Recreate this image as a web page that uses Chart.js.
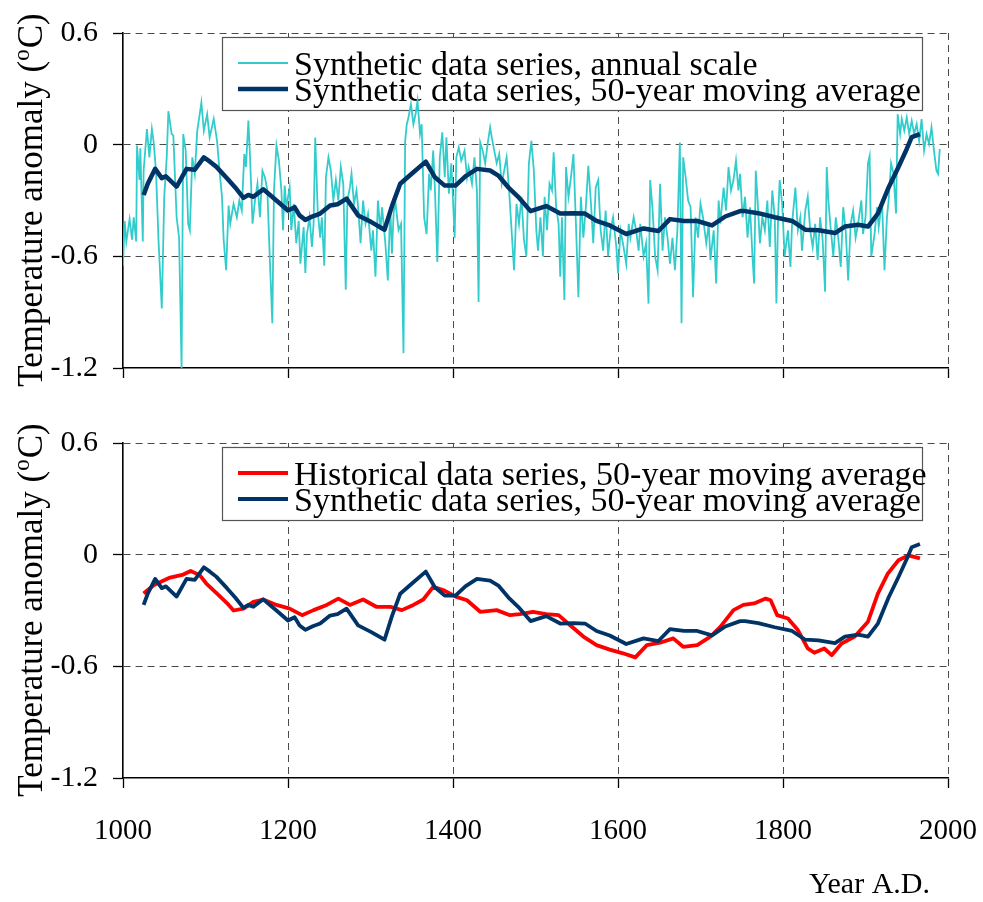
<!DOCTYPE html>
<html><head><meta charset="utf-8">
<script src="https://cdn.jsdelivr.net/npm/chart.js@4.4.1/dist/chart.umd.min.js"></script>
<style>
html,body{margin:0;padding:0;background:#fff;}
#wrap{position:relative;width:983px;height:902px;background:#fff;}
#c1{position:absolute;left:0;top:0;}
#c2{position:absolute;left:0;top:410px;}
</style></head><body>
<div id="wrap"><canvas id="c1" width="983" height="410"></canvas><canvas id="c2" width="983" height="492"></canvas></div>
<script>
// ---- data ----
const annualYears = [1000,1002,1004,1008,1011,1013,1016,1017,1020,1021,1024,1025,1029,1032,1035,1037,1040,1043,1047,1050,1053,1055,1059,1061,1065,1068,1071,1073,1076,1079,1081,1084,1087,1090,1093,1095,1098,1102,1105,1110,1114,1117,1120,1122,1125,1128,1130,1134,1138,1141,1144,1147,1149,1152,1154,1157,1160,1163,1166,1169,1172,1175,1178,1181,1183,1186,1189,1192,1194,1196,1198,1202,1204,1207,1210,1213,1215,1219,1221,1223,1226,1229,1231,1233,1236,1239,1241,1244,1246,1249,
1252,1255,1258,1261,1264,1267,1270,1272,1275,1277,1280,1283,1285,1288,1291,1294,1297,1301,1303,1306,1309,1312,1314,1318,1321,1324,1326,1328,1330,1334,1337,1340,1342,1344,1346,1349,1352,1355,1357,1360,1362,1365,1368,1371,1373,1376,1378,1381,1384,1387,1390,1392,1395,1398,1402,1404,1407,1410,1414,1417,1419,1423,1426,1429,1431,1433,1436,1439,1442,1445,1447,1450,1453,1456,1459,1462,1465,1468,1471,1474,1477,1480,1483,1486,1489,1492,
1495,1498,1501,1503,1506,1509,1511,1514,1517,1520,1522,1525,1528,1530,1532,1535,1537,1540,1543,1546,1549,1552,1555,1558,1561,1564,1567,1570,1573,1576,1579,1582,1585,1588,1591,1594,1598,1600,1603,1606,1610,1613,1615,1619,1622,1625,1627,1631,1634,1637,1639,1642,1645,1648,1651,1654,1657,1660,1663,1666,1669,1672,1675,1677,1679,1682,1685,1688,1691,1694,1697,1700,1703,1707,1710,1712,1716,1719,1722,1724,1728,1731,1734,1737,1740,1743,1746,
1748,1751,1754,1757,1760,1763,1765,1767,1769,1772,1775,1778,1781,1784,1787,1790,1792,1794,1796,1799,1802,1806,1809,1811,1815,1818,1821,1823,1827,1830,1833,1836,1839,1842,1845,1848,1851,1853,1855,1858,1861,1864,1867,1870,1873,1876,1879,1882,1885,1888,1891,1895,1897,1900,1903,1905,1907,1911,1914,1916,1920,1923,1926,1928,1931,1934,1937,1939,1942,1944,1947,1950,1953,1956,1959,1962,1965,1968,1971,1974,1977,1980,1983,1986,1988,1990];
const annualValues = [-0.65,-0.41,-0.52,-0.40,-0.51,-0.39,-0.52,-0.005,-0.19,-0.02,-0.52,-0.14,0.084,-0.068,0.084,0.02,-0.14,-0.51,-0.88,-0.28,-0.068,0.18,0.057,0.048,-0.39,-0.50,-1.20,0.057,-0.032,-0.425,-0.46,-0.068,-0.157,0.075,0.164,0.227,0.075,0.164,0.039,0.138,0.02,-0.14,-0.28,-0.51,-0.675,-0.327,-0.425,-0.318,-0.39,-0.30,-0.354,-0.05,-0.121,0.129,-0.068,-0.425,-0.30,-0.21,-0.39,-0.14,-0.175,-0.246,-0.62,-0.96,-0.246,-0.005,-0.086,-0.246,-0.46,-0.22,-0.336,-0.23,-0.46,-0.318,-0.53,-0.41,-0.64,-0.443,-0.69,-0.48,-0.39,-0.55,-0.425,0.039,-0.354,-0.50,-0.39,-0.65,-0.175,-0.068,
-0.14,-0.30,-0.19,-0.30,-0.12,-0.21,-0.78,-0.30,-0.23,-0.157,-0.318,-0.246,-0.336,-0.53,-0.30,-0.425,-0.37,-0.57,-0.46,-0.71,-0.30,-0.46,-0.336,-0.53,-0.73,-0.336,-0.586,-0.37,-0.30,-0.46,-0.425,-1.12,0.02,0.11,0.146,0.218,0.11,0.173,0.236,0.057,0.11,-0.39,-0.48,-0.157,-0.246,-0.032,-0.23,-0.63,-0.068,0.066,-0.175,0.039,-0.264,-0.10,-0.50,-0.068,-0.014,-0.086,-0.032,-0.175,-0.12,-0.21,-0.068,-0.246,-0.845,0.012,-0.032,-0.10,0.004,0.093,0.039,-0.032,-0.10,-0.05,-0.21,-0.14,-0.068,-0.246,-0.46,-0.675,-0.318,-0.425,-0.28,-0.51,-0.60,-0.10,
0.02,-0.14,-0.46,-0.57,-0.39,-0.60,-0.28,-0.46,-0.21,-0.246,-0.041,-0.336,-0.425,-0.71,-0.39,-0.835,-0.12,-0.28,-0.175,-0.05,-0.425,-0.82,-0.28,-0.50,-0.336,-0.113,-0.30,-0.53,-0.23,-0.19,-0.46,-0.57,-0.354,-0.60,-0.46,-0.39,-0.55,-0.69,-0.46,-0.53,-0.64,-0.425,-0.50,-0.39,-0.46,-0.57,-0.425,-0.60,-0.53,-0.854,-0.19,-0.354,-0.60,-0.675,-0.21,-0.57,-0.39,-0.50,-0.64,-0.50,-0.675,-0.46,0.012,-0.96,-0.068,-0.175,-0.30,-0.336,-0.82,-0.39,-0.50,-0.318,-0.39,-0.53,-0.425,-0.62,-0.46,-0.746,-0.30,-0.425,-0.23,-0.354,-0.12,-0.246,-0.19,-0.086,-0.246,
-0.157,-0.39,-0.28,-0.50,-0.336,-0.60,-0.746,-0.14,-0.28,-0.53,-0.39,-0.46,-0.30,-0.55,-0.246,-0.39,-0.854,-0.39,-0.19,-0.318,-0.60,-0.46,-0.657,-0.425,-0.23,-0.46,-0.39,-0.57,-0.354,-0.28,-0.46,-0.55,-0.425,-0.62,-0.39,-0.51,-0.79,-0.12,-0.30,-0.46,-0.60,-0.39,-0.50,-0.657,-0.336,-0.46,-0.73,-0.425,-0.354,-0.50,-0.425,-0.30,-0.48,-0.39,-0.10,-0.06,-0.60,-0.48,-0.336,-0.443,-0.30,-0.675,-0.39,-0.30,-0.10,-0.157,-0.37,0.164,0.057,0.138,0.075,0.146,0.057,0.129,0.057,0.11,0.02,0.138,-0.032,0.057,0.004,0.093,-0.032,-0.14,-0.157,-0.023];

const synthMAYears = [1025,1030,1039,1047,1052,1065,1077,1087,1098,1105,1113,1126,1136,1146,1152,1158,1170,1186,1200,1208,1214,1221,1230,1239,1251,1260,1271,1285,1301,1317,1326,1336,1352,1367,1378,1390,1403,1415,1429,1445,1455,1467,1479,1494,1513,1530,1546,1560,1574,1590,1610,1631,1649,1663,1680,1696,1714,1730,1748,1754,1770,1790,1811,1827,1843,1863,1875,1891,1903,1915,1928,1940,1950,1956,1966];
const synthMAValues = [-0.27,-0.21,-0.13,-0.18,-0.17,-0.225,-0.13,-0.135,-0.068,-0.09,-0.118,-0.18,-0.23,-0.286,-0.27,-0.28,-0.24,-0.30,-0.354,-0.336,-0.38,-0.404,-0.385,-0.37,-0.327,-0.32,-0.29,-0.38,-0.416,-0.457,-0.33,-0.21,-0.148,-0.091,-0.175,-0.22,-0.22,-0.17,-0.13,-0.139,-0.166,-0.229,-0.28,-0.357,-0.33,-0.37,-0.368,-0.37,-0.41,-0.434,-0.48,-0.45,-0.464,-0.40,-0.41,-0.41,-0.434,-0.386,-0.357,-0.357,-0.368,-0.39,-0.41,-0.457,-0.46,-0.475,-0.44,-0.43,-0.44,-0.37,-0.23,-0.12,-0.023,0.04,0.057];

const histMAYears = [1025,1037,1057,1073,1082,1093,1101,1114,1126,1134,1146,1158,1170,1186,1202,1217,1231,1247,1261,1275,1291,1307,1324,1338,1352,1364,1376,1388,1404,1417,1433,1453,1469,1481,1497,1513,1528,1542,1558,1574,1590,1606,1621,1635,1651,1667,1679,1696,1712,1724,1740,1752,1765,1779,1785,1793,1806,1818,1830,1838,1850,1859,1871,1887,1903,1915,1927,1940,1952,1966];
const histMAValues = [-0.209,-0.164,-0.123,-0.107,-0.0875,-0.11,-0.155,-0.209,-0.26,-0.30,-0.29,-0.254,-0.241,-0.27,-0.29,-0.325,-0.298,-0.27,-0.236,-0.27,-0.241,-0.28,-0.28,-0.298,-0.27,-0.241,-0.173,-0.19,-0.227,-0.245,-0.307,-0.298,-0.325,-0.32,-0.307,-0.32,-0.325,-0.379,-0.44,-0.486,-0.51,-0.53,-0.552,-0.486,-0.473,-0.45,-0.495,-0.486,-0.44,-0.388,-0.298,-0.27,-0.262,-0.236,-0.245,-0.325,-0.343,-0.405,-0.504,-0.527,-0.504,-0.54,-0.477,-0.44,-0.36,-0.209,-0.102,-0.03,-0.004,-0.02];

const xTickLabels = ['1000','1200','1400','1600','1800','2000'];
const yTickLabels = ['-1.2','-0.6','0','0.6'];
const topLegend = ['Synthetic data series, annual scale','Synthetic data series, 50-year moving average'];
const bottomLegend = ['Historical data series, 50-year moving average','Synthetic data series, 50-year moving average'];
const yTitleParts = ['Temperature anomaly (','o','C)'];
const xTitle = 'Year A.D.';

// ---- styling ----
const FONT = '"Liberation Serif", "Times New Roman", serif';
const CYAN = '#33cccc', NAVY = '#003366', RED = '#ff0000';
const GRID = '#4a4a4a';
const CLEAR = 'rgba(0,0,0,0)';

function pts(xs, ys){ return xs.map((x,i)=>({x:x, y:ys[i]})); }

function yLabel(v){
  const idx = [-1.2,-0.6,0,0.6].findIndex(t=>Math.abs(t-v)<1e-6);
  return idx>=0 ? yTickLabels[idx] : '';
}
function xLabel(v){
  const idx = [1000,1200,1400,1600,1800,2000].indexOf(Math.round(v));
  return idx>=0 ? xTickLabels[idx] : '';
}

const decor = {
  id:'decor',
  beforeDatasetsDraw(chart, args, opts){
    const ctx = chart.ctx, ca = chart.chartArea;
    const bx = 222, bw = 700, by = ca.top + 4, bh = 73;
    ctx.save();
    ctx.fillStyle = '#fff';
    ctx.fillRect(bx, by, bw, bh);
    ctx.strokeStyle = '#555';
    ctx.lineWidth = 1.2;
    ctx.strokeRect(bx+0.5, by+0.5, bw, bh);
    opts.items.forEach((it, i)=>{
      const ly = by + 26 + i*26;
      ctx.strokeStyle = it.color; ctx.lineWidth = it.width; ctx.lineCap='butt';
      ctx.beginPath(); ctx.moveTo(238, ly); ctx.lineTo(288, ly); ctx.stroke();
      ctx.fillStyle = '#000';
      ctx.font = '34px ' + FONT;
      ctx.textBaseline = 'alphabetic'; ctx.textAlign = 'left';
      ctx.fillText(it.text, 294, ly + 12);
    });
    ctx.restore();
  },
  afterDraw(chart, args, opts){
    const ctx = chart.ctx, ca = chart.chartArea;
    ctx.save();
    ctx.translate(42, (ca.top + ca.bottom)/2);
    ctx.rotate(-Math.PI/2);
    ctx.fillStyle = '#000';
    ctx.textBaseline = 'alphabetic'; ctx.textAlign = 'left';
    const big = '35px ' + FONT, small = '23px ' + FONT;
    ctx.font = big; const w0 = ctx.measureText(yTitleParts[0]).width, w2 = ctx.measureText(yTitleParts[2]).width;
    ctx.font = small; const w1 = ctx.measureText(yTitleParts[1]).width;
    let x0 = -(w0+w1+w2)/2;
    ctx.font = big; ctx.fillText(yTitleParts[0], x0, 0);
    ctx.font = small; ctx.fillText(yTitleParts[1], x0 + w0, -13);
    ctx.font = big; ctx.fillText(yTitleParts[2], x0 + w0 + w1 + 1, 0);
    ctx.restore();
    if (opts.xTitle){
      ctx.save();
      ctx.fillStyle = '#000';
      ctx.font = '30px ' + FONT;
      ctx.textAlign = 'right'; ctx.textBaseline = 'middle';
      ctx.fillText(xTitle, ca.right - 18, 475);
      ctx.restore();
    }
  }
};

function makeOptions(canvasH, showXLabels, legendItems, withXTitle){
  return {
    responsive:false, animation:false, devicePixelRatio:1,
    layout:{padding:{left:0,right:35,top:32,bottom:0}},
    plugins:{legend:{display:false}, tooltip:{enabled:false}, decor:{items:legendItems, xTitle:withXTitle}},
    scales:{
      x:{type:'linear', min:1000, max:2000,
         afterFit(s){ s.height = canvasH - 368; s.paddingLeft = 0; s.paddingRight = 0; },
         ticks:{stepSize:200, display:showXLabels, color:'#000', padding:26, maxRotation:0,
                font:{family:FONT, size:29}, callback:(v)=>xLabel(v)},
         grid:{color:(c)=> (c.tick && Math.round(c.tick.value)===1000) ? CLEAR : GRID,
               lineWidth:1, drawTicks:true, tickLength:10, tickColor:'#000', tickWidth:1.3},
         border:{display:true, color:'#000', width:1.6, dash:[7,5]}},
      y:{type:'linear', min:-1.2, max:0.6,
         afterFit(s){ s.width = 123; },
         ticks:{stepSize:0.6, color:'#000', padding:15, font:{family:FONT, size:30}, callback:(v)=>yLabel(v)},
         grid:{color:(c)=> (c.tick && Math.abs(c.tick.value+1.2)<1e-6) ? CLEAR : GRID,
               lineWidth:1, drawTicks:true, tickLength:10, tickColor:'#000', tickWidth:1.3},
         border:{display:true, color:'#000', width:1.6, dash:[7,5]}}
    }
  };
}

new Chart(document.getElementById('c1'), {
  type:'line',
  data:{datasets:[
    {label:topLegend[1], data:pts(synthMAYears, synthMAValues), borderColor:NAVY, borderWidth:4.5, pointRadius:0, tension:0, borderJoinStyle:'round'},
    {label:topLegend[0], data:pts(annualYears, annualValues), borderColor:CYAN, borderWidth:1.8, pointRadius:0, tension:0}
  ]},
  options: makeOptions(410, false, [{text:topLegend[0], color:CYAN, width:2},{text:topLegend[1], color:NAVY, width:4.5}], false),
  plugins:[decor]
});

new Chart(document.getElementById('c2'), {
  type:'line',
  data:{datasets:[
    {label:bottomLegend[1], data:pts(synthMAYears, synthMAValues), borderColor:NAVY, borderWidth:3.8, pointRadius:0, tension:0, borderJoinStyle:'round'},
    {label:bottomLegend[0], data:pts(histMAYears, histMAValues), borderColor:RED, borderWidth:3.8, pointRadius:0, tension:0, borderJoinStyle:'round'}
  ]},
  options: makeOptions(492, true, [{text:bottomLegend[0], color:RED, width:4},{text:bottomLegend[1], color:NAVY, width:4}], true),
  plugins:[decor]
});
</script>
</body></html>
